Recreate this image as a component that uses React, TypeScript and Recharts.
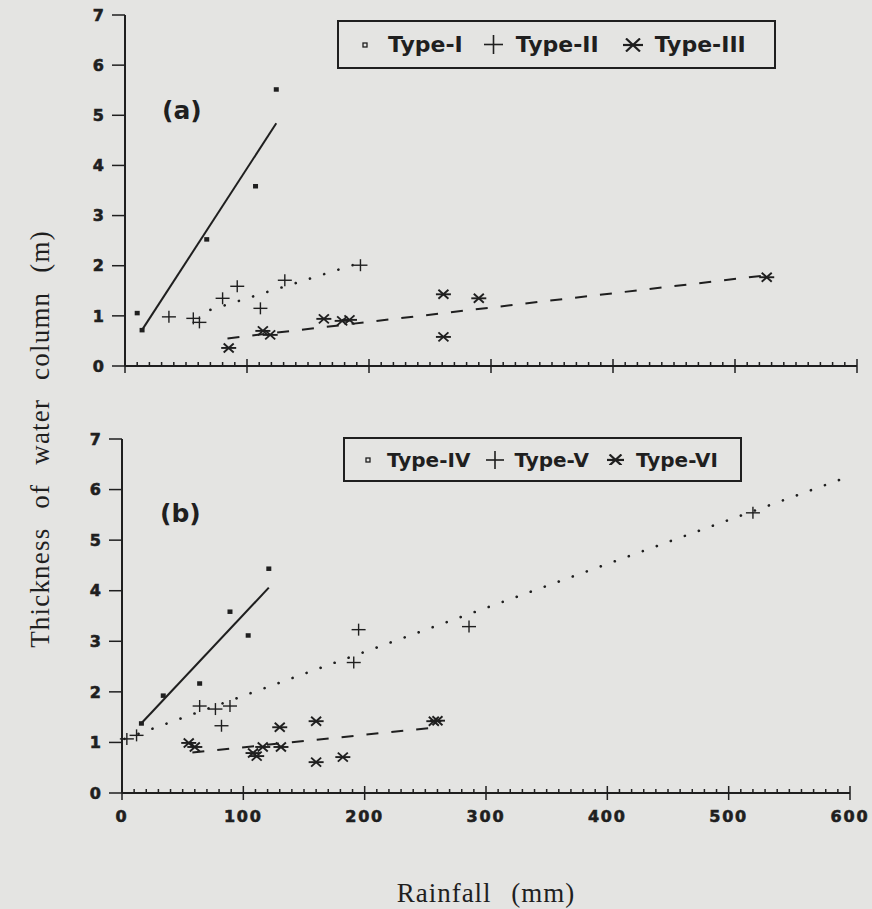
import { ScatterChart, Scatter, XAxis, YAxis, ReferenceLine, Legend, Label } from "recharts";

const INK = "#1f1f1f";
const PAPER = "#e4e4e2";

// panel (a): rainfall (mm) vs thickness of water column (m)
const typeI = [
  { x: 10, y: 1.06 },
  { x: 14, y: 0.72 },
  { x: 67, y: 2.53 },
  { x: 107, y: 3.59 },
  { x: 124, y: 5.52 },
];
const typeII = [
  { x: 36, y: 0.98 },
  { x: 56, y: 0.95 },
  { x: 61, y: 0.87 },
  { x: 80, y: 1.35 },
  { x: 92, y: 1.59 },
  { x: 111, y: 1.15 },
  { x: 131, y: 1.71 },
  { x: 193, y: 2.01 },
];
const typeIII = [
  { x: 85, y: 0.36 },
  { x: 113, y: 0.7 },
  { x: 119, y: 0.62 },
  { x: 163, y: 0.94 },
  { x: 178, y: 0.9 },
  { x: 184, y: 0.92 },
  { x: 261, y: 1.43 },
  { x: 261, y: 0.58 },
  { x: 290, y: 1.35 },
  { x: 526, y: 1.77 },
];
const fitI = [{ x: 14, y: 0.72 }, { x: 124, y: 4.84 }];
const fitII = [{ x: 70, y: 1.12 }, { x: 193, y: 2.06 }];
const fitIII = [{ x: 84, y: 0.55 }, { x: 526, y: 1.81 }];

// panel (b)
const typeIV = [
  { x: 16, y: 1.38 },
  { x: 34, y: 1.93 },
  { x: 64, y: 2.17 },
  { x: 89, y: 3.59 },
  { x: 104, y: 3.12 },
  { x: 121, y: 4.44 },
];
const typeV = [
  { x: 4, y: 1.07 },
  { x: 12, y: 1.14 },
  { x: 64, y: 1.72 },
  { x: 77, y: 1.66 },
  { x: 89, y: 1.72 },
  { x: 82, y: 1.33 },
  { x: 191, y: 2.58 },
  { x: 195, y: 3.23 },
  { x: 286, y: 3.29 },
  { x: 520, y: 5.54 },
];
const typeVI = [
  { x: 55, y: 0.99 },
  { x: 60, y: 0.91 },
  { x: 108, y: 0.79 },
  { x: 111, y: 0.73 },
  { x: 116, y: 0.91 },
  { x: 130, y: 1.3 },
  { x: 131, y: 0.91 },
  { x: 160, y: 1.42 },
  { x: 160, y: 0.61 },
  { x: 182, y: 0.71 },
  { x: 257, y: 1.42 },
  { x: 260, y: 1.43 },
];
const fitIV = [{ x: 16, y: 1.38 }, { x: 121, y: 4.06 }];
const fitV = [{ x: 2, y: 1.07 }, { x: 598, y: 6.25 }];
const fitVI = [{ x: 58, y: 0.8 }, { x: 256, y: 1.29 }];

const legendA = ["Type-I", "Type-II", "Type-III"];
const legendB = ["Type-IV", "Type-V", "Type-VI"];

const xTicks = Array.from({ length: 61 }, (_, i) => i * 10);
const yTicks = [0, 1, 2, 3, 4, 5, 6, 7];

const SquareMark = (p: any) => (
  <rect x={p.cx - 2.5} y={p.cy - 2} width={5} height={4.5} fill={INK} />
);
const PlusMark = (p: any) => (
  <g stroke={INK} strokeWidth={1.4}>
    <line x1={p.cx - 7} x2={p.cx + 7} y1={p.cy} y2={p.cy} />
    <line x1={p.cx} x2={p.cx} y1={p.cy - 6} y2={p.cy + 6} />
  </g>
);
const StarMark = (p: any) => (
  <g stroke={INK} strokeWidth={1.9}>
    <line x1={p.cx - 7.5} x2={p.cx + 7.5} y1={p.cy} y2={p.cy} />
    <line x1={p.cx - 5} x2={p.cx + 5} y1={p.cy - 4.5} y2={p.cy + 4.5} />
    <line x1={p.cx - 5} x2={p.cx + 5} y1={p.cy + 4.5} y2={p.cy - 4.5} />
  </g>
);

const Icon = ({ kind, size }: { kind: number; size: number }) => {
  if (kind === 0) {
    return (
      <svg width={6} height={6}>
        <rect x={1} y={1} width={4} height={4} fill="none" stroke={INK} strokeWidth={1.3} />
      </svg>
    );
  }
  if (kind === 1) {
    return (
      <svg width={size} height={size}>
        <line x1={0} x2={size} y1={size / 2} y2={size / 2} stroke={INK} strokeWidth={1.6} />
        <line x1={size / 2} x2={size / 2} y1={0} y2={size} stroke={INK} strokeWidth={1.6} />
      </svg>
    );
  }
  const h = size * 0.7;
  return (
    <svg width={size} height={h}>
      <g stroke={INK} strokeWidth={2.2}>
        <line x1={0} x2={size} y1={h / 2} y2={h / 2} />
        <line x1={size * 0.15} x2={size * 0.85} y1={0.5} y2={h - 0.5} />
        <line x1={size * 0.15} x2={size * 0.85} y1={h - 0.5} y2={0.5} />
      </g>
    </svg>
  );
};

const LegendBox = ({ names, fontSize, pad, gapIn, gapOut, icon }: any) => (
  <div
    style={{
      border: `2px solid ${INK}`,
      height: "100%",
      boxSizing: "border-box",
      display: "flex",
      alignItems: "center",
      paddingLeft: pad,
      fontFamily: "DejaVu Sans",
      fontWeight: "bold",
      fontSize,
      color: INK,
      whiteSpace: "nowrap",
    }}
  >
    {names.map((n: string, i: number) => (
      <span key={n} style={{ display: "flex", alignItems: "center", marginRight: gapOut[i] }}>
        <Icon kind={i} size={icon[i]} />
        <span style={{ marginLeft: gapIn[i] }}>{n}</span>
      </span>
    ))}
  </div>
);

const XTick = (p: any) => {
  const major = p.payload.value % 100 === 0;
  return (
    <g>
      <line
        x1={p.x}
        x2={p.x}
        y1={major ? p.y - 7 : p.y - 4}
        y2={major ? p.y + 7 : p.y}
        stroke={INK}
        strokeWidth={1.5}
      />
      {p.showLabel && major && (
        <text
          x={p.x}
          y={p.y + 29}
          textAnchor="middle"
          fill={INK}
          stroke={INK}
          strokeWidth={0.6}
          fontSize={16}
          fontFamily="DejaVu Sans"
          fontWeight="bold"
          letterSpacing={1.8}
        >
          {p.payload.value}
        </text>
      )}
    </g>
  );
};

const yTickStyle = {
  fill: INK,
  stroke: INK,
  strokeWidth: 0.6,
  fontSize: 16,
  fontFamily: "DejaVu Sans",
  fontWeight: "bold",
};

const Panel = ({ series, fits, legend, height, margin, showLabels }: any) => (
  <ScatterChart width={872} height={height} margin={margin}>
    <XAxis
      type="number"
      dataKey="x"
      domain={[0, 600]}
      ticks={xTicks}
      interval={0}
      tickSize={0}
      tickMargin={0}
      tickLine={false}
      height={30}
      axisLine={{ stroke: INK, strokeWidth: 2 }}
      tick={(p: any) => <XTick {...p} showLabel={showLabels} />}
    >
      {showLabels && (
        <Label
          value="Rainfall (mm)"
          position="bottom"
          offset={60}
          fill={INK}
          fontSize={27}
          fontFamily="Liberation Serif"
          style={{ letterSpacing: 1, wordSpacing: 12 }}
        />
      )}
    </XAxis>
    <YAxis
      type="number"
      dataKey="y"
      domain={[0, 7]}
      ticks={yTicks}
      interval={0}
      width={60}
      tickSize={13}
      tickMargin={8}
      axisLine={{ stroke: INK, strokeWidth: 2 }}
      tickLine={{ stroke: INK, strokeWidth: 1.5 }}
      tick={yTickStyle}
    />
    <ReferenceLine segment={fits[0]} stroke={INK} strokeWidth={2} ifOverflow="visible" />
    <ReferenceLine
      segment={fits[1]}
      stroke={INK}
      strokeWidth={2.6}
      strokeDasharray="0.1 14.8"
      strokeLinecap="round"
      ifOverflow="visible"
    />
    <ReferenceLine
      segment={fits[2]}
      stroke={INK}
      strokeWidth={2}
      strokeDasharray="12 13"
      ifOverflow="visible"
    />
    <Scatter data={series[0]} shape={SquareMark} isAnimationActive={false} />
    <Scatter data={series[1]} shape={PlusMark} isAnimationActive={false} />
    <Scatter data={series[2]} shape={StarMark} isAnimationActive={false} />
    <Legend
      layout="horizontal"
      verticalAlign="middle"
      align="center"
      wrapperStyle={legend.wrapper}
      content={() => <LegendBox {...legend.box} />}
    />
  </ScatterChart>
);

const panelLabel = {
  position: "absolute" as const,
  fontFamily: "DejaVu Sans",
  fontWeight: "bold" as const,
  fontSize: 25,
  lineHeight: "25px",
  color: INK,
};

export default function App() {
  return (
    <div
      style={{
        position: "absolute",
        left: 0,
        top: 0,
        width: 872,
        height: 909,
        background: PAPER,
        overflow: "hidden",
      }}
    >
      <div style={{ position: "absolute", left: 0, top: 0 }}>
        <Panel
          series={[typeI, typeII, typeIII]}
          fits={[fitI, fitII, fitIII]}
          height={400}
          margin={{ top: 15, right: 15, bottom: 4, left: 65 }}
          showLabels={false}
          legend={{
            wrapper: { left: 337, top: 20, width: 439, height: 49 },
            box: {
              names: legendA,
              fontSize: 22,
              pad: 23,
              gapIn: [20, 13, 12],
              gapOut: [21, 24, 0],
              icon: [6, 19, 20],
            },
          }}
        />
      </div>
      <div style={{ position: "absolute", left: 0, top: 400 }}>
        <Panel
          series={[typeIV, typeV, typeVI]}
          fits={[fitIV, fitV, fitVI]}
          height={509}
          margin={{ top: 39, right: 22, bottom: 86, left: 62 }}
          showLabels={true}
          legend={{
            wrapper: { left: 343, top: 37, width: 399, height: 45 },
            box: {
              names: legendB,
              fontSize: 20,
              pad: 20,
              gapIn: [16, 10, 12],
              gapOut: [16, 18, 0],
              icon: [6, 18, 17],
            },
          }}
        />
      </div>
      <div style={{ ...panelLabel, left: 162, top: 98 }}>(a)</div>
      <div style={{ ...panelLabel, left: 160, top: 501 }}>(b)</div>
      <div
        style={{
          position: "absolute",
          left: 40 - 220,
          top: 439 - 15,
          width: 440,
          height: 30,
          lineHeight: "30px",
          transform: "rotate(-90deg)",
          textAlign: "center",
          fontFamily: "Liberation Serif",
          fontSize: 27,
          letterSpacing: 1.2,
          wordSpacing: 11,
          color: INK,
          whiteSpace: "nowrap",
        }}
      >
        Thickness of water column (m)
      </div>
    </div>
  );
}
